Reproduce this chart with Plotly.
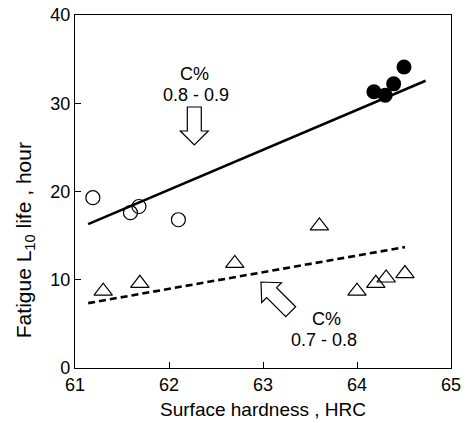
import plotly.graph_objects as go
import numpy as np

# ---- data ----
hi_open_x = [61.19, 61.59, 61.68, 62.10]
hi_open_y = [19.3, 17.6, 18.3, 16.8]
hi_fill_x = [64.18, 64.30, 64.39, 64.50]
hi_fill_y = [31.3, 30.9, 32.2, 34.1]
lo_x = [61.30, 61.69, 62.70, 63.60, 64.00, 64.20, 64.31, 64.51]
lo_y = [8.7, 9.6, 11.85, 16.1, 8.7, 9.6, 10.2, 10.7]
hi_fit_x = [61.14, 64.73]
hi_fit_y = [16.3, 32.55]
lo_fit_x = [61.14, 64.51]
lo_fit_y = [7.35, 13.7]
x_ticks = [61, 62, 63, 64, 65]
y_ticks = [0, 10, 20, 30, 40]

W, H = 470, 423
ML, MR, MT, MB = 75, 19, 15, 55
X0, X1 = 61, 65
Y0, Y1 = 0, 40
pw, ph = W - ML - MR, H - MT - MB

def px2data(px, py):
    return (X0 + (px - ML) / pw * (X1 - X0), Y0 + (H - MB - py) / ph * (Y1 - Y0))

def arrow_path(tip, angle_deg, length=38, head_len=14, head_hw=14, shaft_hw=7):
    # hollow block arrow in pixel space, converted to data coordinates
    a = np.radians(angle_deg)
    u = np.array([np.cos(a), np.sin(a)])  # direction toward tip
    n = np.array([-u[1], u[0]])
    T = np.array(tip, float)
    B = T - u * head_len
    S = T - u * length
    pts = [S + n * shaft_hw, B + n * shaft_hw, B + n * head_hw, T,
           B - n * head_hw, B - n * shaft_hw, S - n * shaft_hw]
    d = []
    for i, p in enumerate(pts):
        x, y = px2data(*p)
        d.append(("M" if i == 0 else "L") + f"{x:.5f},{y:.5f}")
    return " ".join(d) + " Z"

FAM = "Liberation Sans, Arial, sans-serif"
fig = go.Figure()
fig.add_trace(go.Scatter(x=hi_fit_x, y=hi_fit_y, mode="lines",
                         line=dict(color="black", width=2.6), showlegend=False))
fig.add_trace(go.Scatter(x=lo_fit_x, y=lo_fit_y, mode="lines",
                         line=dict(color="black", width=2.6, dash="7px,4px"), showlegend=False))
fig.add_trace(go.Scatter(x=hi_open_x, y=hi_open_y, mode="markers",
                         marker=dict(symbol="circle-open", size=14, color="black", line=dict(width=1.2)),
                         showlegend=False))
fig.add_trace(go.Scatter(x=hi_fill_x, y=hi_fill_y, mode="markers",
                         marker=dict(symbol="circle", size=15, color="black"), showlegend=False))
fig.add_trace(go.Scatter(x=lo_x, y=lo_y, mode="markers",
                         marker=dict(symbol="triangle-up-open", size=16, color="black", line=dict(width=1.2)),
                         showlegend=False))

fig.add_shape(type="path", path=arrow_path((194.3, 145), 90, length=38, head_len=14, head_hw=14, shaft_hw=7),
              line=dict(color="black", width=1.2), fillcolor="white")
fig.add_shape(type="path", path=arrow_path((261, 282), -135, length=42, head_len=15, head_hw=14, shaft_hw=7),
              line=dict(color="black", width=1.2), fillcolor="white")

font = dict(family=FAM, size=18, color="black")
def ann(px, py, text, **kw):
    x, y = px2data(px, py)
    fig.add_annotation(x=x, y=y, text=text, showarrow=False, font=font, **kw)

ann(194, 74, "C%")
ann(196, 95, "0.8 - 0.9")
ann(326, 319, "C%")
ann(324, 340, "0.7 - 0.8")

fig.add_annotation(xref="paper", yref="paper", x=-0.133, y=0.362, text="Fatigue L<sub>10</sub> life , hour",
                   textangle=-90, showarrow=False, font=dict(family=FAM, size=21, color="black"),
                   xanchor="center", yanchor="middle")

axis_common = dict(showline=True, linecolor="black", linewidth=1.3, mirror=True,
                   ticks="inside", ticklen=6, tickwidth=1.2, tickcolor="black",
                   showgrid=False, zeroline=False, automargin=False,
                   tickfont=dict(family=FAM, size=18, color="black"))
fig.update_xaxes(range=[X0, X1], tickvals=x_ticks, ticktext=[str(v) for v in x_ticks],
                 title=dict(text="Surface hardness , HRC", standoff=8,
                            font=dict(family=FAM, size=19, color="black")),
                 **axis_common)
fig.update_yaxes(range=[Y0, Y1], tickvals=y_ticks, ticktext=[str(v) for v in y_ticks], **axis_common)
fig.update_layout(width=W, height=H, margin=dict(l=ML, r=MR, t=MT, b=MB, autoexpand=False),
                  plot_bgcolor="white", paper_bgcolor="white")
fig.write_html("out.html")
